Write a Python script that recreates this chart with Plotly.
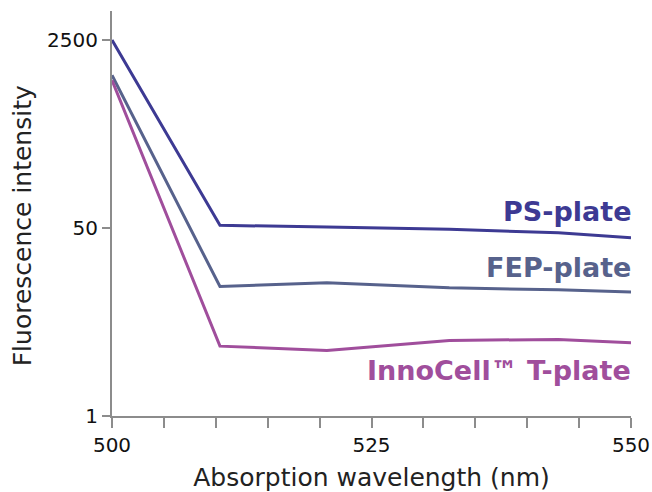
import plotly.graph_objects as go

wavelength = [500, 510.4, 520.7, 532.5, 543, 550]
ps_plate = [2500, 52.9, 51.0, 48.6, 45.2, 40.9]
fep_plate = [1200, 14.8, 16.0, 14.4, 13.8, 13.2]
innocell_plate = [1080, 4.28, 3.91, 4.82, 4.92, 4.59]

series_names = ["PS-plate", "FEP-plate", "InnoCell™ T-plate"]
series_colors = ["#3d3a93", "#57628c", "#a04e9c"]

x_tickvals = [500, 505, 510, 515, 520, 525, 530, 535, 540, 545, 550]
x_ticktext = ["500", "", "", "", "", "525", "", "", "", "", "550"]
y_tickvals = [1, 50, 2500]
y_ticktext = ["1", "50", "2500"]

FONT = "DejaVu Sans"
AXIS_COLOR = "#8c8c8c"

fig = go.Figure()
for name, vals, col in zip(series_names, [ps_plate, fep_plate, innocell_plate], series_colors):
    fig.add_trace(go.Scatter(x=wavelength, y=vals, mode="lines", name=name,
                             line=dict(color=col, width=3), showlegend=False))

label_y = [1.85, 1.343, 0.41]
for name, col, ly in zip(series_names, series_colors, label_y):
    fig.add_annotation(x=550, y=ly, xref="x", yref="y", text="<b>%s</b>" % name,
                       showarrow=False, xanchor="right", yanchor="middle", xshift=2,
                       font=dict(family=FONT, size=27, color=col))

# y-axis title (placed as rotated text, slightly below centre as in the reference)
fig.add_annotation(x=-0.173, y=0.469, xref="paper", yref="paper", text="Fluorescence intensity",
                   textangle=-90, showarrow=False, xanchor="center", yanchor="middle",
                   font=dict(family=FONT, size=25, color="#222222"))

fig.update_layout(
    width=652, height=492,
    margin=dict(l=112, r=21, t=11, b=76),
    paper_bgcolor="white", plot_bgcolor="white",
    font=dict(family=FONT, color="#111111"),
)
fig.update_xaxes(
    automargin=False,
    range=[500, 550], tickvals=x_tickvals, ticktext=x_ticktext,
    showgrid=False, zeroline=False, showline=True, linecolor=AXIS_COLOR, linewidth=2,
    ticks="outside", ticklen=10, tickwidth=2, tickcolor=AXIS_COLOR,
    tickfont=dict(family=FONT, size=20, color="#111111"),
    title=dict(text="Absorption wavelength (nm)", font=dict(family=FONT, size=25, color="#222222"), standoff=15),
)
fig.update_yaxes(
    automargin=False,
    type="log", range=[0, 3.66], tickvals=y_tickvals, ticktext=y_ticktext,
    showgrid=False, zeroline=False, showline=True, linecolor=AXIS_COLOR, linewidth=2,
    ticks="outside", ticklen=8, tickwidth=2, tickcolor=AXIS_COLOR,
    tickfont=dict(family=FONT, size=20, color="#111111"),
)

fig.write_html("out.html", config={"displayModeBar": False},
               post_script="document.body.style.margin='0';document.body.style.overflow='hidden';")
